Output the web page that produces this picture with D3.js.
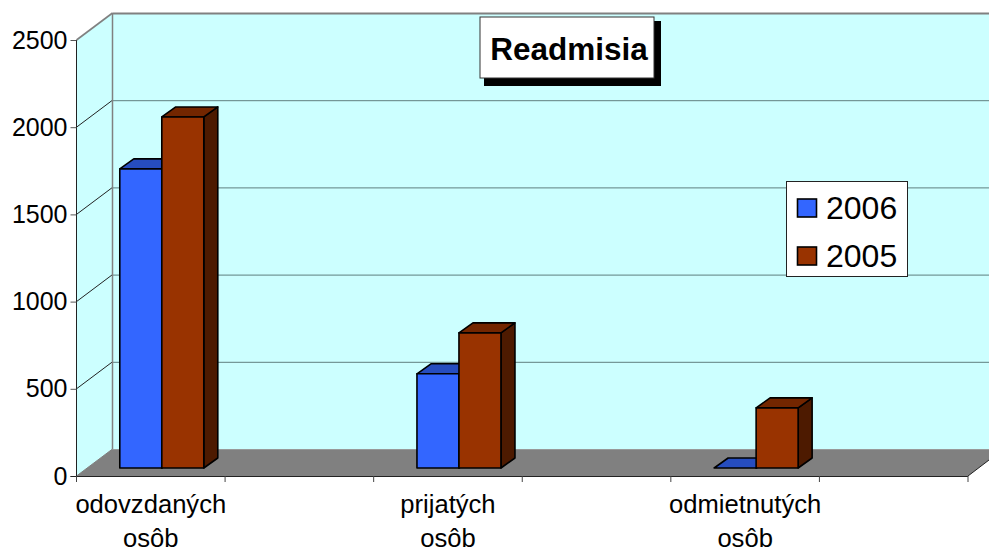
<!DOCTYPE html>
<html><head><meta charset="utf-8">
<script src="https://cdn.jsdelivr.net/npm/d3@7"></script>
<style>html,body{margin:0;padding:0;background:#fff;overflow:hidden}svg{display:block}text{font-family:"Liberation Sans",Arial,sans-serif;fill:#000}</style>
</head><body><svg id="c" width="989" height="548"></svg>
<script>
const categories = ["odovzdaných osôb", "", "prijatých osôb", "", "odmietnutých osôb", ""];
const seriesNames = ["2006", "2005"];
const values2006 = [1715, null, 540, null, 0, null];
const values2005 = [2013, null, 775, null, 345, null];
const yTicks = [0, 500, 1000, 1500, 2000, 2500];
const colors = {"2006": ["#3366ff", "#264dbf", "#1a3380"], "2005": ["#993300", "#732600", "#4d1a00"]};

const svg = d3.select("#c");
const W = 989;
const depth = {x: 36, y: 27}, barDepth = {x: 14, y: 10}, barOff = {x: 11, y: 8};
const x = d3.scaleBand().domain(d3.range(categories.length)).range([76.5, 968]);
const xInner = d3.scaleBand().domain(seriesNames).range([-42, 42]);
const y = d3.scaleLinear().domain([0, 2500]).range([476, 40]);
const pts = a => a.map(p => p.join(",")).join(" ");
const x0 = x.range()[0], x1 = x.range()[1];
const dx = depth.x, dy = depth.y;

// walls
svg.append("polygon").attr("points", pts([[x0, y(0)], [x0, y(2500)], [x0+dx, y(2500)-dy], [x0+dx, y(0)-dy]])).attr("fill", "#ccffff");
svg.append("rect").attr("x", x0+dx).attr("y", y(2500)-dy).attr("width", W-x0-dx).attr("height", y(0)-y(2500)).attr("fill", "#ccffff");
// floor
svg.append("polygon").attr("points", pts([[x0, y(0)], [x0+dx, y(0)-dy], [W, y(0)-dy], [W, y(0)-dy+11], [x1, y(0)]])).attr("fill", "#808080");

// gridlines
yTicks.forEach(t => {
  const top = t === 2500, bot = t === 0;
  svg.append("line").attr("x1", x0).attr("y1", y(t)).attr("x2", x0+dx).attr("y2", y(t)-dy)
    .attr("stroke", top || bot ? "#808080" : "#222").attr("stroke-width", top ? 1.6 : 1);
  svg.append("line").attr("x1", x0+dx).attr("y1", y(t)-dy+.5).attr("x2", W).attr("y2", y(t)-dy+.5)
    .attr("stroke", top ? "#808080" : (bot ? "#999" : "#5f7f7f")).attr("stroke-width", top ? 2 : 1);
});
svg.append("line").attr("x1", x0+dx).attr("y1", y(2500)-dy).attr("x2", x0+dx).attr("y2", y(0)-dy).attr("stroke", "#808080").attr("stroke-width", 1.5);
svg.append("line").attr("x1", x1).attr("y1", y(0)).attr("x2", W).attr("y2", y(0)-16).attr("stroke", "#222").attr("stroke-width", 1);

// bars
[["2006", values2006], ["2005", values2005]].forEach(([name, vals]) => {
  const [front, topc, side] = colors[name];
  vals.forEach((v, i) => {
    if (v === null) return;
    const cx = x(i) + x.bandwidth()/2 + barOff.x;
    const l = cx + xInner(name), r = l + xInner.bandwidth();
    const b = y(0) - barOff.y, t = y(v) - barOff.y;
    const g = svg.append("g").attr("stroke", "#000").attr("stroke-width", 1.6).attr("stroke-linejoin", "round");
    g.append("polygon").attr("points", pts([[r, b], [r, t], [r+barDepth.x, t-barDepth.y], [r+barDepth.x, b-barDepth.y]])).attr("fill", side);
    g.append("polygon").attr("points", pts([[l, t], [l+barDepth.x, t-barDepth.y], [r+barDepth.x, t-barDepth.y], [r, t]])).attr("fill", topc);
    g.append("rect").attr("x", l).attr("y", t).attr("width", r-l).attr("height", b-t).attr("fill", front);
  });
});

// axes
const yAxis = d3.axisLeft(y).tickValues(yTicks).tickFormat(d3.format("d")).tickSize(6).tickPadding(3);
const ya = svg.append("g").attr("transform", `translate(${x0},0)`).call(yAxis);
ya.selectAll("text").attr("font-size", 25).style("font-family", '"Liberation Sans",Arial,sans-serif');
ya.selectAll("line").attr("stroke", "#555");
ya.select(".domain").attr("stroke", "#222").attr("d", `M0,${y(2500)}V${y(0)}`);

svg.append("line").attr("x1", x0-6).attr("x2", x1).attr("y1", y(0)+.5).attr("y2", y(0)+.5).attr("stroke", "#222");
d3.range(categories.length + 1).forEach(i => {
  const px = i < categories.length ? x(i) : x1;
  svg.append("line").attr("x1", px).attr("x2", px).attr("y1", y(0)).attr("y2", y(0)+6).attr("stroke", "#444");
});
categories.forEach((c, i) => {
  if (!c) return;
  c.split(" ").forEach((w, k) => {
    svg.append("text").attr("x", x(i)+x.bandwidth()/2).attr("y", 513 + k*34)
      .attr("text-anchor", "middle").attr("font-size", 25.6).text(w);
  });
});

// title
svg.append("rect").attr("x", 484).attr("y", 21).attr("width", 177).attr("height", 65).attr("fill", "#000");
svg.append("rect").attr("x", 480).attr("y", 17).attr("width", 174).attr("height", 61).attr("fill", "#fff").attr("stroke", "#333");
svg.append("text").attr("x", 569).attr("y", 60).attr("text-anchor", "middle").attr("font-size", 31.5).attr("font-weight", "bold").text("Readmisia");

// legend
svg.append("rect").attr("x", 786.5).attr("y", 181.5).attr("width", 121).attr("height", 95).attr("fill", "#fff").attr("stroke", "#222");
seriesNames.forEach((n, i) => {
  svg.append("rect").attr("x", 797.5).attr("y", 199 + i*48).attr("width", 19).attr("height", 18).attr("fill", colors[n][0]).attr("stroke", "#000").attr("stroke-width", 1.6);
  svg.append("text").attr("x", 826).attr("y", 219 + i*48).attr("font-size", 32).text(n);
});
</script></body></html>
